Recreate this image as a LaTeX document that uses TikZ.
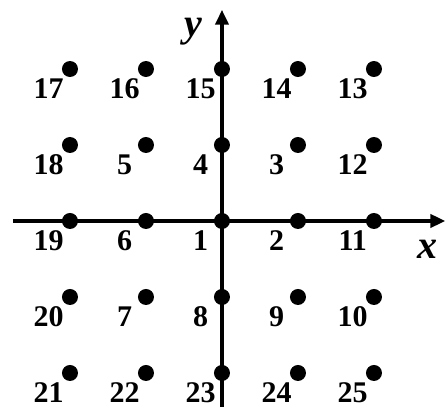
\documentclass[tikz,border=0pt]{standalone}
\usepackage{fontspec}
\setmainfont{Liberation Serif}
\usetikzlibrary{arrows.meta,calc}

\begin{document}
\begin{tikzpicture}[x=38pt, y=38pt, >={Triangle[length=7.5pt,width=6.5pt]},
  dot/.style={circle, fill=black, inner sep=0pt, minimum size=8pt},
  num/.style={font=\fontsize{15}{17}\selectfont\bfseries, inner sep=0pt},
  axis/.style={line width=2.25pt},
  axlabel/.style={font=\fontsize{20}{22}\selectfont\bfseries\itshape, inner sep=0pt}]
\useasboundingbox (-2.921,-2.447) rectangle (2.961,2.908);
\coordinate (xl) at (-2.75,0);
\coordinate (xr) at (2.94,0);
\coordinate (yb) at (0,-2.447);
\coordinate (yt) at (0,2.78);
\draw[axis, ->] (xl) -- (xr);
\draw[axis, ->] (yb) -- (yt);
\node[axlabel] (xlab) at (2.70,-0.37) {x};
\node[axlabel] (ylab) at (-0.38,2.49) {y};
\foreach \n/\i/\j in {1/0/0, 2/1/0, 3/1/1, 4/0/1, 5/-1/1, 6/-1/0, 7/-1/-1, 8/0/-1, 9/1/-1,
  10/2/-1, 11/2/0, 12/2/1, 13/2/2, 14/1/2, 15/0/2, 16/-1/2, 17/-2/2, 18/-2/1, 19/-2/0,
  20/-2/-1, 21/-2/-2, 22/-1/-2, 23/0/-2, 24/1/-2, 25/2/-2} {
  \node[dot] (d\n) at (\i,\j) {};
  \node[num] (t\n) at ($(d\n)+(-0.28,-0.26)$) {\n};
}
\end{tikzpicture}
\end{document}
